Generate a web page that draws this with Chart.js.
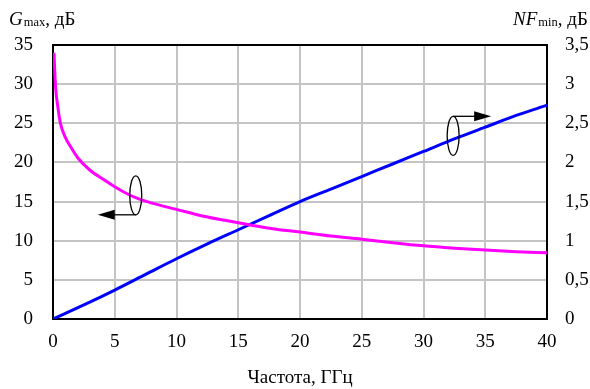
<!DOCTYPE html>
<html>
<head>
<meta charset="utf-8">
<script src="https://cdn.jsdelivr.net/npm/chart.js@4"></script>
<style>
  html, body { margin: 0; padding: 0; background: #fff; }
  #wrap { width: 590px; height: 389px; position: relative; }
</style>
</head>
<body>
<div id="wrap"><canvas id="chart"></canvas></div>
<script>
// data
const freqG = [0.08, 0.2, 0.4, 0.6, 1, 1.5, 2, 3, 4, 5, 6, 7, 8, 10, 12, 15, 17.5, 20, 22.5, 25, 27.5, 30, 32.5, 35, 37.5, 40];
const gmax = [34.0, 29.8, 27.0, 25.0, 23.2, 21.8, 20.6, 19.0, 17.9, 16.9, 16.0, 15.3, 14.8, 14.0, 13.2, 12.3, 11.6, 11.1, 10.6, 10.2, 9.75, 9.35, 9.05, 8.8, 8.6, 8.45];
const freqNF = [0, 2.5, 5, 7.5, 10, 12.5, 15, 17.5, 20, 22.5, 25, 27.5, 30, 32.5, 35, 37.5, 40];
const nfmin = [0, 0.18, 0.37, 0.57, 0.77, 0.96, 1.14, 1.32, 1.50, 1.66, 1.82, 1.98, 2.14, 2.30, 2.45, 2.60, 2.73];

const xTitle = 'Частота, ГГц';
const FONT = 'Liberation Serif, Times New Roman, serif';

// arrow markers (ellipse centre in data units, left axis)
const marks = [
  { x: 6.7, y: 15.8, dir: 'left' },
  { x: 32.4, y: 23.4, dir: 'right' }
];

let toPts = (xs, ys) => xs.map((v, i) => ({ x: v, y: ys[i] }));

// frame, axis names and the little ellipse arrows
const extras = {
  id: 'extras',
  beforeDatasetsDraw(chart) {
    const { ctx, chartArea: a } = chart;
    ctx.save();
    ctx.strokeStyle = '#000';
    ctx.lineWidth = 2;
    ctx.strokeRect(a.left, a.top, a.right - a.left, a.bottom - a.top);
    ctx.restore();
  },
  afterDraw(chart) {
    const { ctx, scales } = chart;
    ctx.save();
    ctx.fillStyle = '#000';
    ctx.textBaseline = 'alphabetic';

    let axisName = (x, main, sub) => {
      const base = 25;
      ctx.font = 'italic 19px ' + FONT;
      ctx.fillText(main, x, base);
      x += ctx.measureText(main).width + 1;
      ctx.font = '12.5px ' + FONT;
      ctx.fillText(sub, x, base + 1);
      x += ctx.measureText(sub).width;
      ctx.font = '19px ' + FONT;
      ctx.fillText(', дБ', x, base);
    };
    axisName(9, 'G', 'max');
    axisName(513, 'NF', 'min');

    // ellipses with arrows
    marks.forEach(m => {
      const cx = scales.x.getPixelForValue(m.x);
      const cy = scales.y.getPixelForValue(m.y);
      const rx = 6, ry = 19.5;
      ctx.strokeStyle = '#000';
      ctx.lineWidth = 1.3;
      ctx.beginPath();
      ctx.ellipse(cx, cy, rx, ry, 0, 0, Math.PI * 2);
      ctx.stroke();
      const ly = m.dir === 'left' ? cy + ry : cy - ry;
      const s = m.dir === 'left' ? -1 : 1;
      ctx.beginPath();
      ctx.moveTo(cx, ly);
      ctx.lineTo(cx + s * 22, ly);
      ctx.stroke();
      ctx.beginPath();
      ctx.moveTo(cx + s * 38, ly);
      ctx.lineTo(cx + s * 21, ly - 5);
      ctx.lineTo(cx + s * 21, ly + 5);
      ctx.closePath();
      ctx.fill();
    });
    ctx.restore();
  }
};

const tickFont = { family: FONT, size: 19 };

new Chart(document.getElementById('chart'), {
  type: 'line',
  data: {
    datasets: [
      {
        label: 'Gmax',
        data: toPts(freqG, gmax),
        borderColor: '#ff00ff',
        borderWidth: 3,
        pointRadius: 0,
        cubicInterpolationMode: 'monotone',
        yAxisID: 'y'
      },
      {
        label: 'NFmin',
        data: toPts(freqNF, nfmin),
        borderColor: '#0000ff',
        borderWidth: 3,
        pointRadius: 0,
        cubicInterpolationMode: 'monotone',
        yAxisID: 'y2'
      }
    ]
  },
  options: {
    responsive: true,
    maintainAspectRatio: false,
    animation: false,
    layout: { padding: { top: 45, left: 0, right: 0, bottom: 0 } },
    plugins: { legend: { display: false }, tooltip: { enabled: false } },
    scales: {
      x: {
        type: 'linear',
        min: 0, max: 40,
        ticks: { stepSize: 5, color: '#000', font: tickFont, padding: 12, maxRotation: 0 },
        grid: { color: '#c4c4c4', lineWidth: 2, drawTicks: false },
        border: { color: '#000', width: 2 },
        title: { display: true, text: xTitle, color: '#000', font: tickFont, padding: { top: 0, bottom: 0 } },
        afterFit: s => { s.height = 70; }
      },
      y: {
        position: 'left',
        min: 0, max: 35,
        ticks: { stepSize: 5, color: '#000', font: tickFont, padding: 20 },
        grid: { color: '#c4c4c4', lineWidth: 2, drawTicks: false },
        border: { color: '#000', width: 2 },
        afterFit: s => { s.width = 53; }
      },
      y2: {
        position: 'right',
        min: 0, max: 3.5,
        ticks: {
          stepSize: 0.5, color: '#000', font: tickFont, padding: 18,
          callback: v => String(v).replace('.', ',')
        },
        grid: { display: false, drawTicks: false },
        border: { color: '#000', width: 2 },
        afterFit: s => { s.width = 43; }
      }
    }
  },
  plugins: [extras]
});
</script>
</body>
</html>
